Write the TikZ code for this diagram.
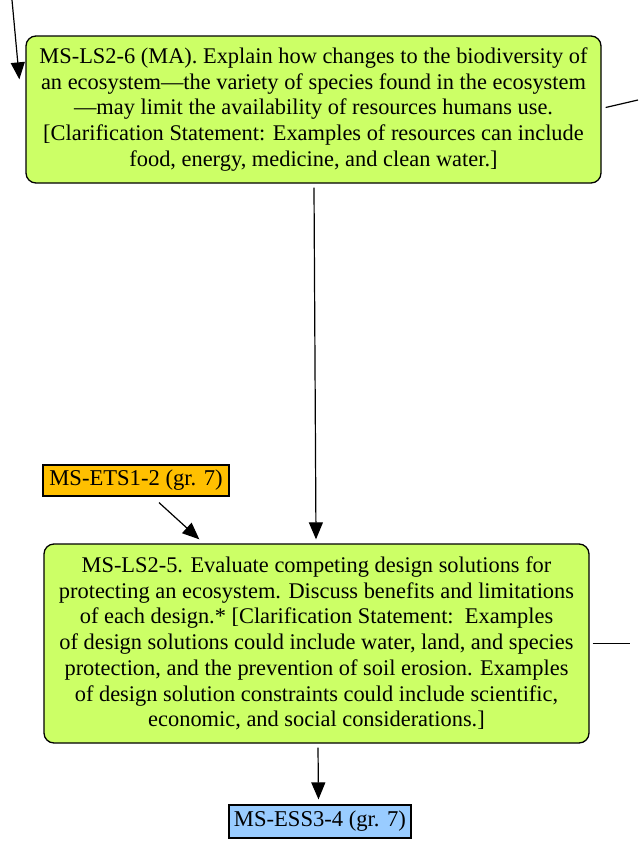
\documentclass[tikz,border=0pt]{standalone}
\usepackage{fontspec}
\setmainfont{Liberation Serif}
\usetikzlibrary{arrows.meta,calc}
\definecolor{lime}{RGB}{204,255,102}
\definecolor{ets}{RGB}{255,192,0}
\definecolor{ess}{RGB}{153,204,255}
\tikzset{
  pebox/.style={draw=black, line width=1.3pt, fill=lime, rounded corners=10pt, align=center, inner sep=0pt,
    font=\fontsize{22.4}{25.7}\selectfont},
  tagbox/.style={draw=black, line width=1.2pt, inner sep=0pt, font=\fontsize{22.6}{24}\selectfont},
  arr/.style={line width=1.2pt, -{Triangle[length=17pt,width=14pt]}},
  ln/.style={line width=1.2pt}
}
\begin{document}
\begin{tikzpicture}[x=1pt,y=-1pt]
\useasboundingbox (0,0) rectangle (638,846);
\node[pebox, minimum width=575pt, minimum height=147pt] (top) at (313.5,109.5)
  {MS-LS2-6 (MA). Explain how changes to the biodiversity of\\
   an ecosystem---the variety of species found in the ecosystem\\
   ---may limit the availability of resources humans use.\\
   {[}Clarification Statement: Examples of resources can include\\
   food, energy, medicine, and clean water.]};
\node[pebox, minimum width=545pt, minimum height=199pt] (bot) at (316.5,643.5)
  {MS-LS2-5. Evaluate competing design solutions for\\
   protecting an ecosystem. Discuss benefits and limitations\\
   of each design.* [Clarification Statement:\ \ Examples\\
   of design solutions could include water, land, and species\\
   protection, and the prevention of soil erosion. Examples\\
   of design solution constraints could include scientific,\\
   economic, and social considerations.]};
\node[tagbox, fill=ets, minimum width=186pt, minimum height=31pt] (etsn) at (136,480.5) {MS-ETS1-2 (gr. 7)};
\node[tagbox, fill=ess, minimum width=182pt, minimum height=33pt] (essn) at (320,821.5) {MS-ESS3-4 (gr. 7)};
\coordinate (inA) at (12,0);
\coordinate (outA) at (638,100);
\coordinate (outB) at (630,643.5);
\draw[arr] (inA) -- ($(top.north west)+(-6,44)$);
\draw[ln] ($(top.east)+(4,-2)$) -- (outA);
\draw[ln] ($(bot.east)+(3,0)$) -- (outB);
\draw[arr] ($(top.south)+(0.5,4)$) -- ($(bot.north)+(-0.5,-4)$);
\draw[arr] ($(etsn.south)+(23,6)$) -- ($(bot.north west)+(156,-4)$);
\draw[arr] ($(bot.south)+(1.5,4)$) -- ($(essn.north)+(-1.5,-5)$);
\end{tikzpicture}
\end{document}
